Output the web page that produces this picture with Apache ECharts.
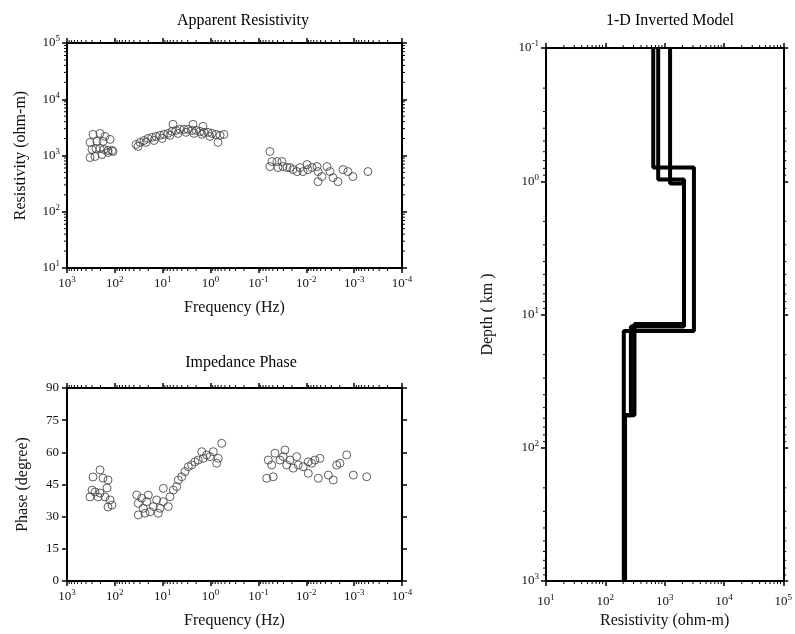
<!DOCTYPE html>
<html><head><meta charset="utf-8">
<script src="https://cdn.jsdelivr.net/npm/echarts@6/dist/echarts.min.js"></script>
<style>html,body{margin:0;padding:0;background:#fff}#c{width:795px;height:634px}</style>
</head><body><div id="c"></div>
<script>
// ---- Apparent resistivity (frequency Hz, ohm-m)
const resFreq = [286,204,161,330,236,177,126,300,248,204,169,139,115,330,260,186,139,109,
  36.1,32.8,29.8,24.6,22.4,20.3,16.8,15.2,13.8,11.4,10.3,9.40,7.76,7.05,6.40,6.10,5.28,4.80,4.36,3.59,3.26,2.96,2.45,2.33,2.22,2.02,1.66,1.51,1.44,1.37,1.13,1.03,0.933,0.771,0.700,0.635,0.525,
  0.0574,0.0521,0.0574,0.0409,0.0322,0.0390,0.0307,0.0253,0.0219,0.0190,0.0156,0.0135,0.0117,0.00966,0.00921,0.00760,0.00597,0.00569,0.00569,0.00470,0.00369,0.00320,0.00277,0.00218,0.00171,0.00135,0.00106,0.000514];
const resRho = [2370,2470,2180,1710,1780,1780,1930,1280,1330,1330,1280,1230,1230,920,960,1040,1130,1180,
  1570,1450,1710,1850,1710,2010,2100,1850,2180,2280,2010,2370,2470,2280,2680,3580,2790,2470,2910,2910,2580,2910,2790,3580,2470,2790,2680,2370,3300,2580,2580,2180,2470,2370,1710,2280,2370,
  1180,781,636,781,781,611,636,611,611,562,518,611,518,690,562,611,636,518,343,422,636,518,405,343,562,518,422,518];
// ---- Impedance phase (frequency Hz, degree)
const phFreq = [204,286,177,139,146,300,260,204,161,330,126,115,139,225,
  35.0,27.5,32.4,21.6,25.5,32.4,23.4,18.4,20.0,15.7,13.4,11.4,12.4,9.72,9.72,7.64,7.05,6.01,5.11,4.73,4.01,3.43,2.92,2.48,2.12,1.81,1.53,1.42,1.21,1.03,0.877,0.745,0.690,0.586,
  0.0622,0.0528,0.0451,0.0355,0.0279,0.0303,0.0257,0.0219,0.0187,0.0159,0.0147,0.0116,0.00908,0.00771,0.00658,0.00518,0.00908,0.00561,0.00347,0.00273,0.00232,0.00198,0.00143,0.00104,0.000547,0.0672,0.0490];
const phDeg = [51.8,48.5,48.0,47.1,43.4,42.4,41.5,41.0,39.2,39.2,37.8,35.4,34.5,39.2,
  40.1,38.6,36.2,37.0,33.9,30.8,31.6,32.3,40.1,34.7,37.8,33.9,31.6,43.2,37.0,34.7,39.3,42.4,44.0,47.1,48.6,51.0,53.3,54.1,55.6,56.4,60.3,57.2,58.8,58.0,60.3,54.9,57.2,64.2,
  56.4,54.1,59.6,56.4,61.1,58.0,54.1,56.4,52.6,58.0,54.1,53.3,55.6,54.9,56.4,57.2,50.2,47.9,49.4,47.1,54.1,54.9,58.8,49.4,48.6,47.9,48.6];
// ---- 1-D inverted models: layer resistivities (ohm-m) and layer boundary depths (km)
const modelARho = [643, 3120, 205];
const modelADepth = [0.1, 0.79, 13.3, 1000];
const modelBRho = [779, 2120, 310, 215];
const modelBDepth = [0.1, 0.97, 11.8, 57, 1000];
const modelCRho = [1236, 2120, 270, 215];
const modelCDepth = [0.1, 1.04, 12.3, 57, 1000];
// ---- axis ticks
const freqExp = [3, 2, 1, 0, -1, -2, -3, -4];
const resExp = [1, 2, 3, 4, 5];
const depthExp = [-1, 0, 1, 2, 3];
const modelResExp = [1, 2, 3, 4, 5];
const phaseTicks = [0, 15, 30, 45, 60, 75, 90];
const minorMult = [2, 3, 4, 5, 6, 7, 8, 9];

const FONT = 'Liberation Serif';
const INK = '#111';

function pairs(xs, ys) { return xs.map((x, i) => [x, ys[i]]); }
function steps(rho, depth) {
  const out = [];
  rho.forEach((r, i) => { out.push([r, depth[i]]); out.push([r, depth[i + 1]]); });
  return out;
}
function minorVals(exps) {
  const lo = Math.min(...exps), hi = Math.max(...exps), out = [];
  for (let e = lo; e < hi; e++) minorMult.forEach(m => out.push(m * Math.pow(10, e)));
  return out;
}
function powLabel(v) {
  const e = Math.round(Math.log10(v));
  return '{b|10}{s|' + e + '}';
}
const rich = {
  b: { fontFamily: FONT, fontSize: 13, color: INK, lineHeight: 17 },
  s: { fontFamily: FONT, fontSize: 9, color: INK, lineHeight: 10, verticalAlign: 'top' }
};
function axisBase(extra) {
  return Object.assign({
    axisLine: { show: true, onZero: false, lineStyle: { color: '#000', width: 2 } },
    axisTick: { show: true, inside: false, length: 5, lineStyle: { color: '#000', width: 1.5 } },
    splitLine: { show: false },
    nameTextStyle: { fontFamily: FONT, fontSize: 16, color: INK }
  }, extra);
}
function logAxis(exps, grid, pos, inverse, labels, name, nameGap, margin) {
  return axisBase({
    type: 'log', logBase: 10, gridIndex: grid, position: pos, inverse: inverse,
    min: Math.pow(10, Math.min(...exps)), max: Math.pow(10, Math.max(...exps)), interval: 1,
    axisLabel: labels ? { show: true, formatter: powLabel, rich: rich, margin: margin || 7, showMinLabel: true, showMaxLabel: true } : { show: false },
    name: name || '', nameLocation: 'middle', nameGap: nameGap || 30,
    nameRotate: (pos === 'left' && name) ? 90 : 0
  });
}
function renderMinor(params, api) {
  const cs = params.coordSys;
  const kind = api.value(2);
  const p = api.coord([api.value(0), api.value(1)]);
  const L = 3, st = { stroke: '#000', lineWidth: 1 };
  if (kind === 0) {
    return { type: 'group', children: [
      { type: 'line', shape: { x1: p[0], y1: cs.y + cs.height, x2: p[0], y2: cs.y + cs.height + L }, style: st },
      { type: 'line', shape: { x1: p[0], y1: cs.y, x2: p[0], y2: cs.y - L }, style: st }
    ]};
  }
  return { type: 'group', children: [
    { type: 'line', shape: { x1: cs.x, y1: p[1], x2: cs.x - L, y2: p[1] }, style: st },
    { type: 'line', shape: { x1: cs.x + cs.width, y1: p[1], x2: cs.x + cs.width + L, y2: p[1] }, style: st }
  ]};
}
function minorSeries(xi, yi, xVals, yVals, yAnchor, xAnchor) {
  const data = [];
  xVals.forEach(v => data.push([v, yAnchor, 0]));
  yVals.forEach(v => data.push([xAnchor, v, 1]));
  return { type: 'custom', xAxisIndex: xi, yAxisIndex: yi, renderItem: renderMinor, data: data,
    encode: { x: 0, y: 1 }, clip: false, silent: true, z: 5 };
}

const scatterStyle = { color: 'rgba(0,0,0,0)', borderColor: '#444', borderWidth: 1, opacity: 0.85 };
const lineStyleModel = { color: '#000', width: 4 };
const titleStyle = { fontFamily: FONT, fontSize: 16, fontWeight: 'normal', color: '#000' };

const chart = echarts.init(document.getElementById('c'), null, { renderer: 'canvas' });
chart.setOption({
  animation: false,
  backgroundColor: '#fff',
  title: [
    { text: 'Apparent Resistivity', left: 238, top: 8, textAlign: 'center', textStyle: titleStyle },
    { text: 'Impedance Phase', left: 236, top: 350, textAlign: 'center', textStyle: titleStyle },
    { text: '1-D Inverted Model', left: 665, top: 8, textAlign: 'center', textStyle: titleStyle }
  ],
  grid: [
    { left: 67, top: 43, width: 335, height: 225 },
    { left: 67, top: 388, width: 335, height: 193 },
    { left: 546, top: 48, width: 239, height: 533 }
  ],
  xAxis: [
    logAxis(freqExp, 0, 'bottom', true, true, 'Frequency (Hz)', 32),
    logAxis(freqExp, 0, 'top', true, false),
    logAxis(freqExp, 1, 'bottom', true, true, 'Frequency (Hz)', 32),
    logAxis(freqExp, 1, 'top', true, false),
    logAxis(modelResExp, 2, 'bottom', false, true, 'Resistivity (ohm-m)', 32, 12),
    logAxis(modelResExp, 2, 'top', false, false)
  ],
  yAxis: [
    logAxis(resExp, 0, 'left', false, true, 'Resistivity (ohm-m)', 38),
    logAxis(resExp, 0, 'right', false, false),
    axisBase({ type: 'value', gridIndex: 1, position: 'left', min: phaseTicks[0], max: phaseTicks[phaseTicks.length - 1], interval: 15,
      axisLabel: { fontFamily: FONT, fontSize: 13, color: INK, margin: 8 },
      name: 'Phase (degree)', nameLocation: 'middle', nameGap: 36, nameRotate: 90 }),
    axisBase({ type: 'value', gridIndex: 1, position: 'right', min: phaseTicks[0], max: phaseTicks[phaseTicks.length - 1], interval: 15, axisLabel: { show: false } }),
    logAxis(depthExp, 2, 'left', true, true, 'Depth ( km )', 50),
    logAxis(depthExp, 2, 'right', true, false)
  ],
  series: [
    { type: 'scatter', xAxisIndex: 0, yAxisIndex: 0, symbol: 'circle', symbolSize: 8, itemStyle: scatterStyle, data: pairs(resFreq, resRho), z: 3 },
    { type: 'scatter', xAxisIndex: 2, yAxisIndex: 2, symbol: 'circle', symbolSize: 8, itemStyle: scatterStyle, data: pairs(phFreq, phDeg), z: 3 },
    { type: 'line', xAxisIndex: 4, yAxisIndex: 4, showSymbol: false, symbol: 'none', lineStyle: lineStyleModel, data: steps(modelARho, modelADepth), z: 3 },
    { type: 'line', xAxisIndex: 4, yAxisIndex: 4, showSymbol: false, symbol: 'none', lineStyle: lineStyleModel, data: steps(modelBRho, modelBDepth), z: 3 },
    { type: 'line', xAxisIndex: 4, yAxisIndex: 4, showSymbol: false, symbol: 'none', lineStyle: lineStyleModel, data: steps(modelCRho, modelCDepth), z: 3 },
    minorSeries(0, 0, minorVals(freqExp), minorVals(resExp), 100, 1),
    minorSeries(2, 2, minorVals(freqExp), [], 45, 1),
    minorSeries(4, 4, minorVals(modelResExp), minorVals(depthExp), 1, 100)
  ]
});
</script></body></html>
